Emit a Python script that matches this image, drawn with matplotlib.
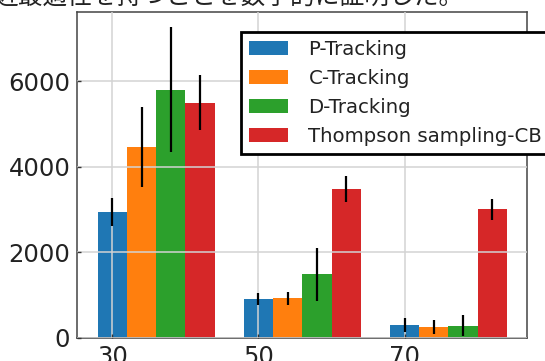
import matplotlib
matplotlib.use("Agg")
import matplotlib.pyplot as plt
import numpy as np

# Number of arms on the x axis
arms = [30, 50, 70]
methods = ["P-Tracking", "C-Tracking", "D-Tracking", "Thompson sampling-CB"]
colors = ["#1f77b4", "#ff7f0e", "#2ca02c", "#d62728"]

# Mean stopping time and its spread for each method
p_mean = [2940, 905, 290]
p_err = [330, 150, 165]
c_mean = [4460, 920, 245]
c_err = [940, 155, 160]
d_mean = [5805, 1484, 280]
d_err = [1465, 624, 245]
t_mean = [5505, 3488, 3005]
t_err = [635, 308, 245]

means = [p_mean, c_mean, d_mean, t_mean]
errs = [p_err, c_err, d_err, t_err]

yticks = [0, 2000, 4000, 6000]
caption = "近最適性を持つことを数学的に証明した。"

W, H = 545, 361
fig = plt.figure(figsize=(W / 100, H / 100), dpi=100)
fig.patch.set_facecolor("white")

ax = fig.add_axes([77.3 / W, (H - 337.7) / H, 450 / W, (337.7 - 11.7) / H])

width = 4
x = np.array(arms, dtype=float)
for i, (m, e, c, lab) in enumerate(zip(means, errs, colors, methods)):
    ax.bar(x + i * width, m, width=width, color=c, label=lab,
           yerr=e, error_kw=dict(ecolor="black", elinewidth=1.6, capsize=0,
                                 zorder=3))

ax.set_xticks(arms)
ax.set_xticklabels([str(a) for a in arms])
ax.set_yticks(yticks)
ax.set_yticklabels([str(t) for t in yticks])
ax.grid(True, color="#d3d3d3", linewidth=1.1)
ax.set_axisbelow(False)
ax.tick_params(axis="both", direction="in", length=3, width=1, pad=5,
               labelsize=17.5, colors="#333333", labelcolor="#222222")
for s in ax.spines.values():
    s.set_color("#444444")
    s.set_linewidth(1.1)

leg = ax.legend(loc="upper left", bbox_to_anchor=(241 / W, (H - 32) / H),
                bbox_transform=fig.transFigure, fontsize=14.2, frameon=True,
                fancybox=False, handlelength=1.95, handletextpad=1.05,
                borderpad=0.42, labelspacing=0.5, borderaxespad=0)
leg.get_frame().set_edgecolor("black")
leg.get_frame().set_linewidth(2.0)
leg.get_frame().set_alpha(1)
for t in leg.get_texts():
    t.set_color("#222222")

fig.text(-0.012, 1 - 4 / H, caption, fontsize=17.8, va="baseline", ha="left",
         family=["Noto Sans CJK JP", "DejaVu Sans"], color="#222222")

fig.savefig("out.png", dpi=100)
